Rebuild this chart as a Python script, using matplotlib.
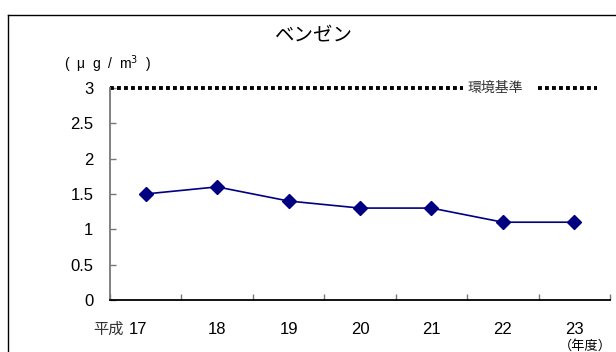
import matplotlib.pyplot as plt
import matplotlib.transforms as mtransforms
from matplotlib.lines import Line2D

plt.rcParams['font.family'] = ['Liberation Sans', 'Noto Sans CJK JP', 'DejaVu Sans']

# Benzene annual means
years = ['17', '18', '19', '20', '21', '22', '23']
benzene = [1.5, 1.6, 1.4, 1.3, 1.3, 1.1, 1.1]
standard = 3.0
yticks = [0, 0.5, 1, 1.5, 2, 2.5, 3]
yticklabels = ['0', '0.5', '1', '1.5', '2', '2.5', '3']

fig = plt.figure(figsize=(6.16, 3.52), dpi=100)
ax = fig.add_axes([110 / 616, 0.148, 500 / 616, 0.602])

x = list(range(len(years)))
ax.plot(x, benzene, color='#000080', lw=1.2, marker='D', ms=7.5,
        mfc='#000080', mec='#000080', zorder=3)

# environmental standard, broken around its label
dots = dict(color='black', lw=2.8, linestyle=(0, (1, 0.8)), clip_on=False)
ax.plot([-0.5, 4.44], [standard, standard], **dots)
ax.plot([5.49, 6.32], [standard, standard], **dots)
ax.text(4.89, standard, '環境基準', fontsize=10, color='#333333',
        ha='center', va='center', family=['Noto Sans CJK JP'])

ax.set_xlim(-0.5, 6.5)
ax.set_ylim(0, 3)
ax.set_yticks(yticks)
ax.set_yticklabels(yticklabels)
ax.set_xticks(x)
ax.set_xticklabels(years)
ax.set_xticks([i - 0.5 for i in range(len(years) + 1)], minor=True)
ax.tick_params(axis='x', which='major', length=0, pad=16, labelsize=12)
ax.tick_params(axis='x', which='minor', direction='in', length=4, width=1,
               color='#777777')
ax.tick_params(axis='y', direction='in', length=4, width=1, color='#777777',
               pad=12, labelsize=12)

# first year label sits a little left, next to the era name
first = ax.get_xticklabels()[0]
first.set_transform(first.get_transform() +
                    mtransforms.ScaledTranslation(-8 / 100, 0, fig.dpi_scale_trans))

for s in ['top', 'right']:
    ax.spines[s].set_visible(False)
ax.spines['left'].set_color('#777777')
ax.spines['left'].set_linewidth(1.3)
ax.spines['bottom'].set_linewidth(1.3)

fig.text(314 / 616, 1 - 35 / 352, 'ベンゼン', fontsize=14, ha='center',
         va='center', family=['Noto Sans CJK JP'])
fig.text(64 / 616, 1 - 64 / 352, '(  μ  g  /  m$^3$  )', fontsize=10,
         ha='left', va='center')
fig.text(108 / 616, 1 - 329 / 352, '平成', fontsize=11, ha='center',
         va='center', color='#333333', family=['Noto Sans CJK JP'])
fig.text(585 / 616, 1 - 346 / 352, '（年度）', fontsize=9.5, ha='center',
         va='center', family=['Noto Sans CJK JP'])

# outer frame
fig.add_artist(Line2D([8 / 616, 8 / 616], [0, 1 - 15 / 352],
                      transform=fig.transFigure, color='black', lw=1))
fig.add_artist(Line2D([8 / 616, 1], [1 - 15 / 352, 1 - 15 / 352],
                      transform=fig.transFigure, color='black', lw=1))

fig.savefig('out.png', dpi=100)
